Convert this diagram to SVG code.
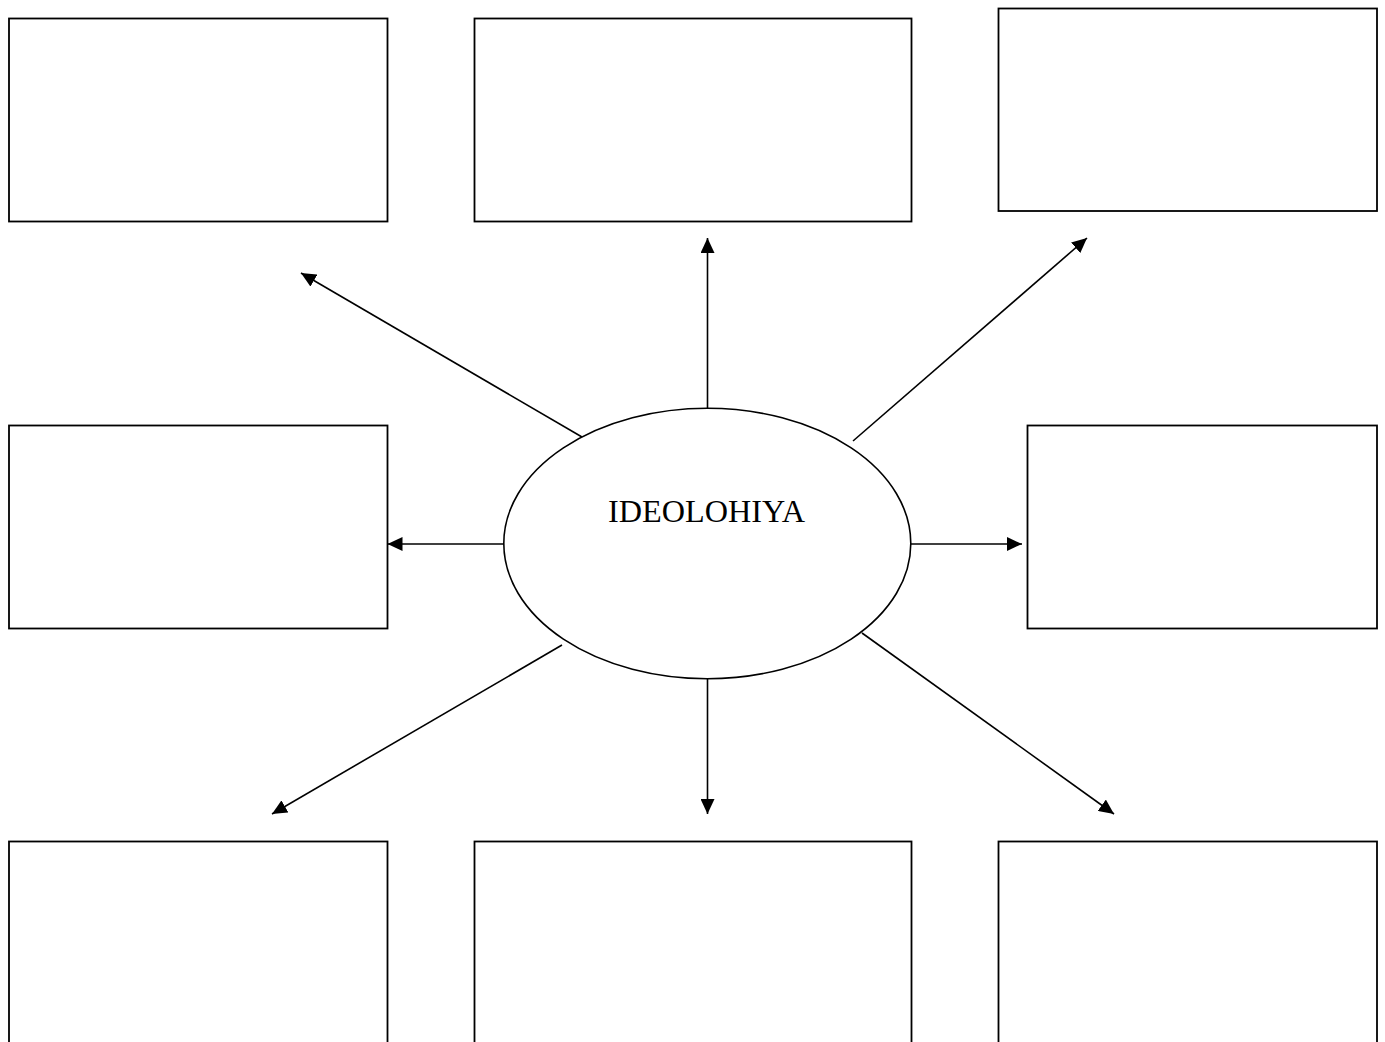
<svg xmlns="http://www.w3.org/2000/svg" width="1385" height="1042" viewBox="0 0 1385 1042">
<style>
.box{fill:#fff;stroke:#000;stroke-width:1.8}
.hub{fill:#fff;stroke:#000;stroke-width:1.6}
.conn line{stroke:#000;stroke-width:1.6;marker-end:url(#ah)}
.lbl{font-family:"Liberation Serif","Times New Roman",serif;font-size:31.7px;fill:#000}
</style>
<defs>
<marker id="ah" markerUnits="userSpaceOnUse" markerWidth="16" markerHeight="14" refX="15" refY="7" orient="auto">
<path d="M0,0 L15,7 L0,14 Z" fill="#000"/>
</marker>
</defs>
<rect width="1385" height="1042" fill="#fff"/>
<g id="box-top-left"><rect class="box" x="9" y="18.5" width="378.5" height="203"/></g>
<g id="box-top-middle"><rect class="box" x="474.5" y="18.5" width="437" height="203"/></g>
<g id="box-top-right"><rect class="box" x="998.5" y="8.5" width="378.5" height="202.5"/></g>
<g id="box-mid-left"><rect class="box" x="9" y="425.5" width="378.5" height="203"/></g>
<g id="box-mid-right"><rect class="box" x="1027.5" y="425.5" width="349.5" height="203"/></g>
<g id="box-bottom-left"><rect class="box" x="9" y="841.5" width="378.5" height="220"/></g>
<g id="box-bottom-middle"><rect class="box" x="474.5" y="841.5" width="437" height="220"/></g>
<g id="box-bottom-right"><rect class="box" x="998.5" y="841.5" width="378.5" height="220"/></g>
<g id="connectors" class="conn">
<line x1="707.5" y1="408" x2="707.5" y2="238"/>
<line x1="582" y1="437" x2="301" y2="273"/>
<line x1="853" y1="441" x2="1087" y2="238"/>
<line x1="504" y1="544" x2="387.5" y2="544"/>
<line x1="911" y1="544" x2="1022" y2="544"/>
<line x1="562" y1="645" x2="272" y2="814"/>
<line x1="707.5" y1="679" x2="707.5" y2="814"/>
<line x1="862" y1="633" x2="1114" y2="814"/>
</g>
<g id="hub">
<ellipse class="hub" cx="707.3" cy="543.5" rx="203.5" ry="135.2"/>
<text class="lbl" x="706.5" y="521.7" text-anchor="middle" textLength="197" lengthAdjust="spacingAndGlyphs">IDEOLOHIYA</text>
</g>
</svg>
